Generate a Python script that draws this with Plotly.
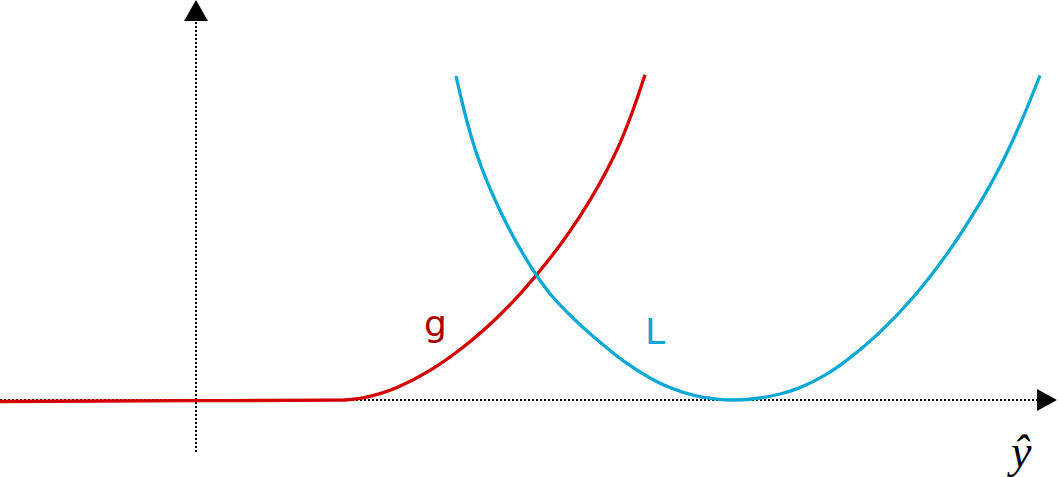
import plotly.graph_objects as go

# Curve g (red)
g_x = [-1.96, 0.0, 1.34, 1.49, 1.67, 1.84, 2.01, 2.34, 2.67, 3.01, 3.273, 3.54, 3.74,
       3.94, 4.107, 4.24, 4.373, 4.49]
g_y = [-0.015, -0.007, -0.002, 0.0, 0.022, 0.063, 0.124, 0.296, 0.527, 0.823, 1.097, 1.417, 1.689,
       1.999, 2.296, 2.569, 2.908, 3.253]

# Curve L (blue)
L_x = [2.60, 2.657, 2.723, 2.807, 2.89, 2.99, 3.107, 3.24, 3.407, 3.557, 3.76, 3.97, 4.31, 4.64,
       4.97, 5.19, 5.39, 5.64, 5.84, 6.04, 6.29, 6.51, 6.84, 7.17, 7.51, 7.84, 8.04, 8.24, 8.44]
L_y = [3.24, 2.995, 2.738, 2.461, 2.237, 2.002, 1.759, 1.513, 1.245, 1.043, 0.83, 0.638, 0.366, 0.168,
       0.049, 0.012, 0.0, 0.02, 0.06, 0.124, 0.249, 0.399, 0.679, 1.025, 1.461, 1.972, 2.332, 2.756, 3.245]

# Axes extents (data units)
x_range = [-1.96, 8.62]
y_range = [-0.77, 4.00]
h_axis = [-1.96, 8.41]
v_axis = [-0.52, 3.79]

labels = ["g", "L", "ŷ"]
label_pos = [(2.39, 0.77), (4.59, 0.685), (8.235, -0.51)]

RED = "#d40000"
RED_TXT = "#a80000"
BLUE = "#0aa9d5"

fig = go.Figure()
fig.add_trace(go.Scatter(x=g_x, y=g_y, mode="lines",
                         line=dict(color=RED, width=3.3, shape="spline", smoothing=1.0),
                         hoverinfo="skip", showlegend=False))
fig.add_trace(go.Scatter(x=L_x, y=L_y, mode="lines",
                         line=dict(color=BLUE, width=3.3, shape="spline", smoothing=1.0),
                         hoverinfo="skip", showlegend=False))

shapes = [
    dict(type="line", x0=h_axis[0], x1=h_axis[1], y0=0, y1=0, layer="below",
         line=dict(color="black", width=2, dash="2px,2px")),
    dict(type="line", x0=0, x1=0, y0=v_axis[0], y1=v_axis[1], layer="below",
         line=dict(color="black", width=2, dash="2px,2px")),
    dict(type="path", xsizemode="pixel", ysizemode="pixel", xanchor=h_axis[1], yanchor=0,
         path="M0,11 L20,0 L0,-11 Z", fillcolor="black", line=dict(width=0), layer="above"),
    dict(type="path", xsizemode="pixel", ysizemode="pixel", xanchor=0, yanchor=v_axis[1],
         path="M-12,0 L12,0 L0,21 Z", fillcolor="black", line=dict(width=0), layer="above"),
]

annotations = [
    dict(x=label_pos[0][0], y=label_pos[0][1], text=labels[0], showarrow=False,
         font=dict(family="DejaVu Sans", size=36, color=RED_TXT)),
    dict(x=label_pos[1][0], y=label_pos[1][1], text=labels[1], showarrow=False,
         font=dict(family="DejaVu Sans", size=36, color=BLUE)),
    dict(x=label_pos[2][0], y=label_pos[2][1], text="<i>" + labels[2] + "</i>", showarrow=False,
         font=dict(family="Liberation Serif", size=46, color="black")),
]

fig.update_layout(
    width=1058, height=477,
    margin=dict(l=0, r=0, t=0, b=0),
    paper_bgcolor="white", plot_bgcolor="white",
    xaxis=dict(range=x_range, visible=False, fixedrange=True),
    yaxis=dict(range=y_range, visible=False, fixedrange=True),
    shapes=shapes, annotations=annotations, showlegend=False,
)

fig.write_html("out.html", config={"displayModeBar": False},
               post_script="document.body.style.margin='0';document.body.style.padding='0';document.body.style.overflow='hidden';")
